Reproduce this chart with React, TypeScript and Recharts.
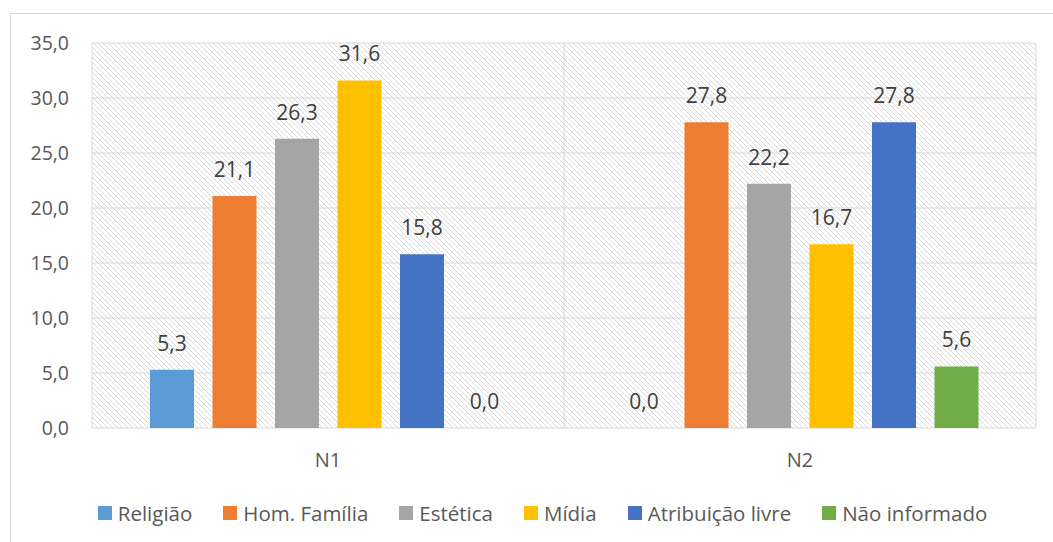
import React from 'react';
import { BarChart, Bar, XAxis, YAxis, CartesianGrid, Legend, LabelList } from 'recharts';

const categories = ['N1', 'N2'];
const seriesNames = ['Religião', 'Hom. Família', 'Estética', 'Mídia', 'Atribuição livre', 'Não informado'];
const seriesColors = ['#5B9BD5', '#ED7D31', '#A5A5A5', '#FFC000', '#4472C4', '#70AD47'];

const religiao = [5.3, 0.0];
const homFamilia = [21.1, 27.8];
const estetica = [26.3, 22.2];
const midia = [31.6, 16.7];
const atribuicaoLivre = [15.8, 27.8];
const naoInformado = [0.0, 5.6];

const yTicks = [0, 5, 10, 15, 20, 25, 30, 35];

const seriesValues = [religiao, homFamilia, estetica, midia, atribuicaoLivre, naoInformado];

const data = categories.map((cat, i) => {
  const row: Record<string, string | number> = { cat };
  seriesValues.forEach((vals, s) => {
    row['s' + s] = vals[i];
  });
  return row;
});

const fmt = (v: any) => Number(v).toFixed(1).replace('.', ',');

// legend keeps series order (recharts sorts its payload by default)
const LegendContent = () => (
  <div style={{ display: 'flex', justifyContent: 'center', alignItems: 'center', gap: 31, height: 26 }}>
    {seriesNames.map((name, s) => (
      <div key={name} style={{ display: 'flex', alignItems: 'center' }}>
        <span style={{ width: 14, height: 14, background: seriesColors[s], display: 'inline-block', marginRight: 6 }} />
        <span style={{ fontSize: 20.5, color: '#595959', lineHeight: '26px' }}>{name}</span>
      </div>
    ))}
  </div>
);

export default function App() {
  return (
    <div
      style={{
        position: 'absolute',
        left: 0,
        top: 0,
        width: 1053,
        height: 542,
        overflow: 'hidden',
        background: '#fff',
        fontFamily: "'Open Sans', sans-serif",
      }}
    >
      <svg width={0} height={0} style={{ position: 'absolute' }}>
        <defs>
          <pattern id="plotHatch" patternUnits="userSpaceOnUse" width={5} height={5}>
            <rect width={5} height={5} fill="#fff" />
            <path d="M-1,-1 L6,6 M-1,4 L1,6 M4,-1 L6,1" stroke="#d9d9d9" strokeWidth={1} />
          </pattern>
        </defs>
      </svg>
      <div
        style={{
          position: 'absolute',
          left: 10,
          top: 13,
          width: 1100,
          height: 600,
          border: '1px solid #d9d9d9',
        }}
      />
      <div style={{ position: 'absolute', left: 0, top: 0 }}>
        <BarChart
          width={1053}
          height={542}
          data={data}
          margin={{ top: 43, right: 17, bottom: 54, left: 0 }}
          barSize={44}
          barGap={18.5}
        >
          <CartesianGrid
            stroke="#d9d9d9"
            fill="url(#plotHatch)"
            fillOpacity={1}
            verticalCoordinatesGenerator={({ offset }: any) => [
              offset.left,
              offset.left + offset.width / 2,
              offset.left + offset.width,
            ]}
          />
          <XAxis
            dataKey="cat"
            height={60}
            axisLine={false}
            tickLine={false}
            tickSize={0}
            tickMargin={25}
            tick={{ fill: '#595959', fontSize: 20 }}
          />
          <YAxis
            width={92}
            domain={[0, 35]}
            ticks={yTicks}
            axisLine={false}
            tickLine={false}
            tickSize={0}
            tickMargin={23}
            tickFormatter={fmt}
            tick={{ fill: '#595959', fontSize: 19.5 }}
          />
          <Legend
            layout="horizontal"
            verticalAlign="middle"
            align="center"
            content={<LegendContent />}
            wrapperStyle={{ left: 0, width: 1085, top: 500 }}
          />
          {seriesNames.map((name, s) => (
            <Bar
              key={name}
              dataKey={'s' + s}
              name={name}
              fill={seriesColors[s]}
              minPointSize={0.01}
              isAnimationActive={false}
            >
              <LabelList dataKey={'s' + s} position="top" offset={19} formatter={fmt} fill="#404040" fontSize={21} />
            </Bar>
          ))}
        </BarChart>
      </div>
    </div>
  );
}
